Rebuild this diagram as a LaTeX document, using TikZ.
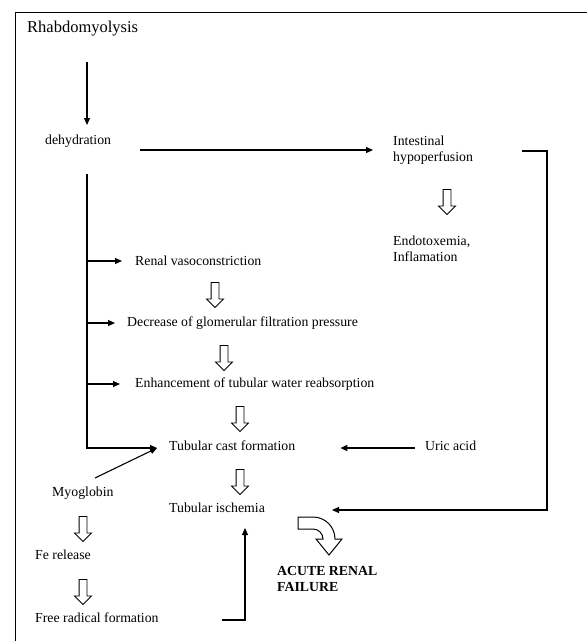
\documentclass[tikz,border=0pt]{standalone}
\usepackage{fontspec}
\setmainfont{Liberation Serif}
\usetikzlibrary{arrows.meta,shapes.arrows}

\tikzset{
  lbl/.style={anchor=west, inner sep=0pt, align=left,
    font=\fontsize{13.8}{16}\selectfont},
  arr/.style={-{Triangle[length=7pt,width=6pt]}, line width=1.1pt},
  fatarrow/.style={single arrow, draw, line width=0.9pt, rotate=-90,
    minimum height=25pt, minimum width=16pt, inner sep=3.5pt,
    single arrow head extend=4.5pt},
}

\begin{document}
\begin{tikzpicture}[x=1pt, y=-1pt]
  \useasboundingbox (0,0) rectangle (587,641);
  % frame
  \draw[line width=1pt] (15,641) -- (15,12) -- (587,12);

  % texts
  \node[lbl, font=\fontsize{16.5}{19}\selectfont] (rhabdo) at (27,29) {Rhabdomyolysis};
  \node[lbl] (dehyd) at (45,141) {dehydration};
  \node[lbl] (intest) at (393,150) {Intestinal\\hypoperfusion};
  \node[lbl] (endo) at (393,249) {Endotoxemia,\\Inflamation};
  \node[lbl] (renal) at (135,261) {Renal vasoconstriction};
  \node[lbl] (gfr) at (127,323) {Decrease of glomerular filtration pressure};
  \node[lbl] (enh) at (135,384) {Enhancement of tubular water reabsorption};
  \node[lbl] (cast) at (169,446) {Tubular cast formation};
  \node[lbl] (uric) at (425,446) {Uric acid};
  \node[lbl] (myo) at (52,493) {Myoglobin};
  \node[lbl] (isch) at (169,508) {Tubular ischemia};
  \node[lbl] (fe) at (35,555) {Fe release};
  \node[lbl] (free) at (35,618) {Free radical formation};
  \node[lbl, font=\fontsize{13.8}{16}\selectfont\bfseries] (arf) at (277,579) {ACUTE RENAL\\FAILURE};

  % hollow arrows
  \node[fatarrow] (a1) at (447,200) {};
  \node[fatarrow] (a2) at (215,293) {};
  \node[fatarrow] (a3) at (224,356) {};
  \node[fatarrow] (a4) at (240,417) {};
  \node[fatarrow] (a5) at (240,480) {};
  \node[fatarrow] (a6) at (83,527) {};
  \node[fatarrow] (a7) at (83,590) {};

  % curved hollow arrow to ARF
  \draw[line width=1pt] (298,517) -- (313,517) arc[start angle=-90, end angle=0, radius=22]
    -- (342,539) -- (329,555) -- (316,539) -- (323,539)
    arc[start angle=0, end angle=-90, radius=10] -- (298,529) -- cycle;

  % corner points
  \coordinate (t0) at (87,62);
  \coordinate (t1) at (87,125);
  \coordinate (t2) at (87,174);
  \coordinate (t3) at (87,448);
  \coordinate (r0) at (522,151);
  \coordinate (r1) at (547,151);
  \coordinate (r2) at (547,510);
  \coordinate (f0) at (222,620);
  \coordinate (f1) at (245,620);

  \draw[arr] (t0) -- (t1);
  \draw[arr] (140,150) -- ([xshift=-20pt]intest.west);
  \draw[arr] (r0) -- (r1) -- (r2) -- (332,510);
  \draw[arr] (t2) -- (t3) -- ([xshift=-12pt,yshift=-2pt]cast.west);
  \draw[arr] (87,261) -- ([xshift=-13pt]renal.west);
  \draw[arr] (87,323) -- ([xshift=-12pt]gfr.west);
  \draw[arr] (87,384) -- ([xshift=-15pt]enh.west);
  \draw[arr] ([xshift=-10pt,yshift=-2pt]uric.west) -- ([xshift=45pt,yshift=-2pt]cast.east);
  \draw[arr] (95,478) -- ([xshift=-12pt,yshift=-2pt]cast.west);
  \draw[arr] (f0) -- (f1) -- (245,528);
\end{tikzpicture}
\end{document}
